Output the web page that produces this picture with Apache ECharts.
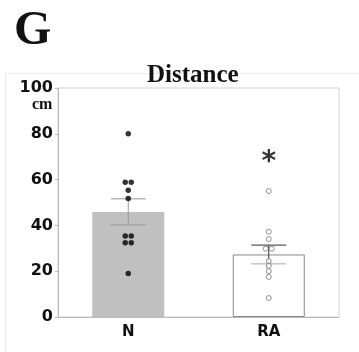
<!DOCTYPE html>
<html><head><meta charset="utf-8">
<script src="https://cdn.jsdelivr.net/npm/echarts@6/dist/echarts.min.js"></script>
<style>html,body{margin:0;padding:0;background:#fff}#c{width:359px;height:352px}</style>
</head><body><div id="c"></div>
<script>
const categories = ['N', 'RA'];
const means = [45.9, 27.3];
const sems = [5.7, 4.1];
const yTicks = [0, 20, 40, 60, 80, 100];
// individual points: [value, horizontal offset in px]
const pointsN = [[80, 0], [58.8, -3], [58.8, 3], [55.4, 0], [51.8, 0], [35.4, -3], [35.4, 3], [32.4, -3], [32.4, 3], [19.0, 0]];
const pointsRA = [[55.0, 0], [37.2, 0], [34.0, 0], [29.8, -3], [29.8, 3], [24.4, 0], [22.3, 0], [20.0, 0], [17.5, 0], [8.3, 0]];
const sigLabel = '*';
const sigValue = 69.6;

const chart = echarts.init(document.getElementById('c'));
function pts(cat, arr) {
  return arr.map(p => ({ value: [cat, p[0]], symbolOffset: [p[1], 0] }));
}
chart.setOption({
  animation: false,
  title: [
    { text: 'G', left: 9, top: 3, textStyle: { fontFamily: 'Liberation Serif', fontWeight: 'bold', fontSize: 48, color: '#111' } },
    { text: 'Distance', left: 142, top: 58, textStyle: { fontFamily: 'Liberation Serif', fontWeight: 'bold', fontSize: 25, color: '#111' } }
  ],
  graphic: [
    { type: 'rect', shape: { x: 5.5, y: 73.5, width: 360, height: 290 }, style: { fill: 'none', stroke: '#eaeaea', lineWidth: 1 }, z: -1 },
    { type: 'text', left: 32, top: 97, style: { text: 'cm', font: 'bold 16px "Liberation Serif"', fill: '#111' } }
  ],
  grid: { left: 58, right: 20, top: 88, bottom: 35, show: true, borderColor: '#d0d0d0', borderWidth: 1 },
  xAxis: {
    type: 'category', data: categories,
    axisLine: { lineStyle: { color: '#bbb' } },
    axisTick: { show: false },
    axisLabel: { fontFamily: 'DejaVu Sans', fontWeight: 'bold', fontSize: 15, color: '#111', margin: 8 }
  },
  yAxis: {
    type: 'value', min: 0, max: 100, interval: 20,
    axisLine: { show: true, lineStyle: { color: '#bbb' } },
    axisTick: { show: true, length: 3, lineStyle: { color: '#bbb' } },
    splitLine: { show: false },
    axisLabel: { fontFamily: 'DejaVu Sans', fontWeight: 'bold', fontSize: 16, color: '#111', margin: 5,
      formatter: v => yTicks.includes(v) ? String(v) : '' }
  },
  series: [
    { type: 'bar', data: [
        { value: means[0], itemStyle: { color: '#c0c0c0', borderWidth: 0 } },
        { value: means[1], itemStyle: { color: '#fff', borderColor: '#888', borderWidth: 1 } }
      ], barWidth: 72, z: 1 },
    { type: 'custom', z: 3,
      data: categories.map((c, i) => [i, means[i], sems[i]]),
      renderItem: function (params, api) {
        const i = api.value(0);
        const top = api.coord([i, api.value(1) + api.value(2)]);
        const bot = api.coord([i, api.value(1) - api.value(2)]);
        const mid = api.coord([i, api.value(1)]);
        const hw = 17.5;
        const dark = i === 1 ? '#333' : '#999';
        const light = i === 1 ? '#aaa' : '#999';
        return { type: 'group', children: [
          { type: 'line', shape: { x1: top[0], y1: top[1], x2: mid[0], y2: mid[1] }, style: { stroke: dark, lineWidth: 1 } },
          { type: 'line', shape: { x1: mid[0], y1: mid[1], x2: bot[0], y2: bot[1] }, style: { stroke: dark, lineWidth: 1 } },
          { type: 'line', shape: { x1: top[0] - hw, y1: top[1], x2: top[0] + hw, y2: top[1] }, style: { stroke: dark, lineWidth: 1 } },
          { type: 'line', shape: { x1: bot[0] - hw, y1: bot[1], x2: bot[0] + hw, y2: bot[1] }, style: { stroke: light, lineWidth: 1 } }
        ] };
      } },
    { type: 'scatter', z: 4, symbol: 'circle', symbolSize: 5.5,
      itemStyle: { color: '#000', borderWidth: 0 }, data: pts('N', pointsN) },
    { type: 'scatter', z: 4, symbol: 'circle', symbolSize: 5,
      itemStyle: { color: '#fff', borderColor: '#777', borderWidth: 1 }, data: pts('RA', pointsRA) },
    { type: 'scatter', z: 5, symbolSize: 1, itemStyle: { color: 'transparent' },
      data: [['RA', sigValue]],
      label: { show: true, position: 'inside', formatter: sigLabel, offset: [0, 5],
        fontFamily: 'DejaVu Sans', fontWeight: 'bold', fontSize: 28, color: '#000' } }
  ]
});
</script></body></html>
